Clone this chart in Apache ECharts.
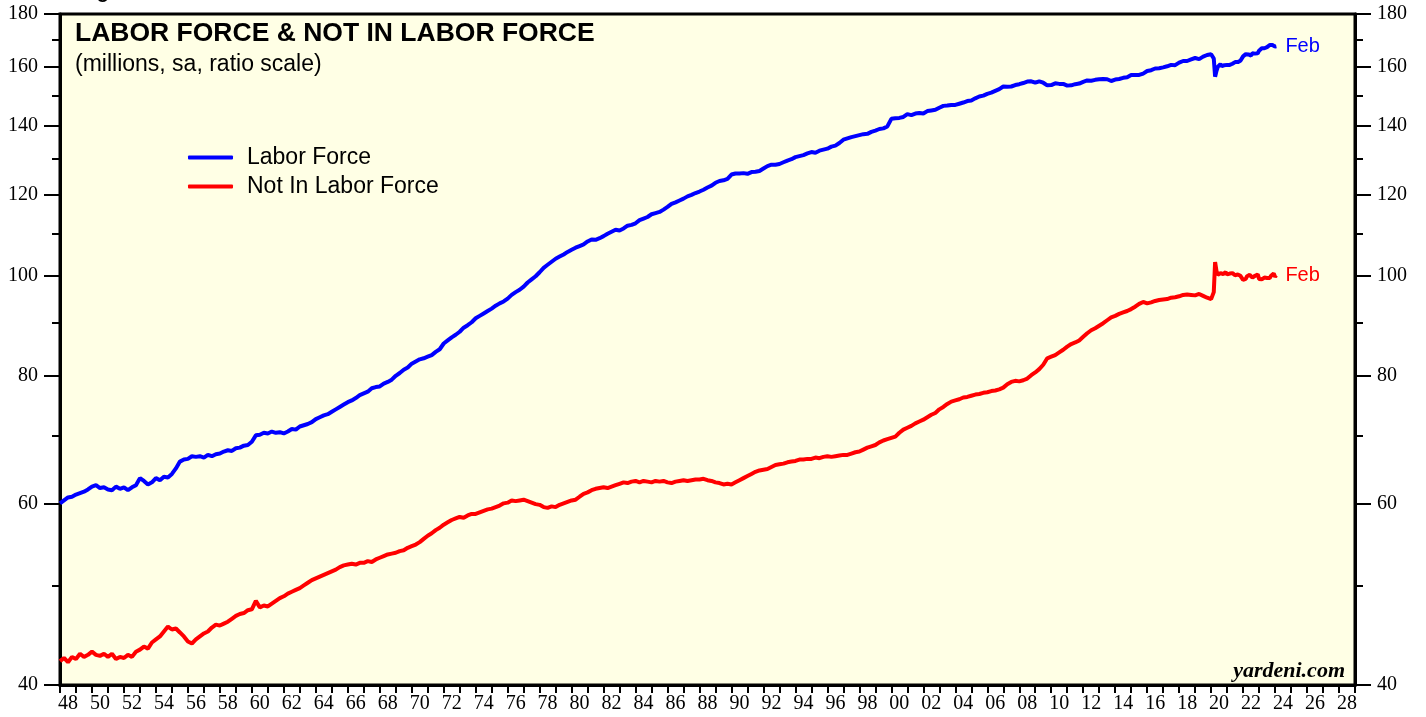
<!DOCTYPE html>
<html>
<head>
<meta charset="utf-8">
<title>Labor Force & Not In Labor Force</title>
<script src="https://cdn.jsdelivr.net/npm/echarts@6/dist/echarts.min.js"></script>
<style>
  html, body { margin: 0; padding: 0; background: #fff; }
  #main { width: 1426px; height: 717px; }
</style>
</head>
<body>
<div id="main"></div>
<script>
// quarterly values 1948Q1 .. 2019Q4 (millions)
const laborForceQ = [
  60.1, 60.5, 60.9, 61.0,  61.3, 61.5, 61.7, 62.0,  62.4, 62.6, 62.2, 62.3,  62.0, 61.9, 62.4, 62.1,
  62.3, 61.9, 62.3, 62.6,  63.6, 63.2, 62.7, 63.0,  63.6, 63.3, 63.8, 63.7,  64.2, 65.0, 66.0, 66.3,
  66.4, 66.8, 66.7, 66.8,  66.6, 67.0, 66.8, 67.1,  67.2, 67.5, 67.7, 67.6,  68.0, 68.1, 68.4, 68.5,
  69.0, 70.0, 70.1, 70.4,  70.3, 70.6, 70.4, 70.5,  70.3, 70.6, 71.0, 70.9,  71.4, 71.6, 71.8, 72.1,
  72.6, 72.9, 73.2, 73.4,  73.8, 74.2, 74.6, 75.0,  75.4, 75.7, 76.1, 76.6,  76.9, 77.2, 77.8, 78.0,
  78.1, 78.6, 78.9, 79.3,  80.0, 80.5, 81.1, 81.5,  82.2, 82.6, 83.0, 83.2,  83.5, 83.8, 84.4, 84.9,
  86.0, 86.6, 87.2, 87.7,  88.3, 89.1, 89.6, 90.2,  91.0, 91.5, 92.0, 92.5,  93.0, 93.6, 94.1, 94.5,
  95.1, 95.9, 96.5, 97.0,  97.7, 98.6, 99.3, 100.0,  100.9, 101.9, 102.6, 103.3,  104.0, 104.5, 105.0, 105.6,
  106.1, 106.6, 107.0, 107.4,  108.1, 108.6, 108.5, 108.9,  109.4, 110.0, 110.5, 111.0,  110.8, 111.3, 112.0, 112.2,
  112.6, 113.4, 113.8, 114.2,  114.9, 115.2, 115.5, 116.1,  116.8, 117.6, 118.0, 118.5,  119.0, 119.6, 120.0, 120.5,
  120.9, 121.4, 122.0, 122.5,  123.3, 123.8, 124.0, 124.4,  125.6, 125.9, 125.9, 126.0,  125.8, 126.3, 126.4, 126.6,
  127.3, 128.0, 128.4, 128.4,  128.6, 129.1, 129.6, 130.0,  130.6, 130.9, 131.2, 131.7,  132.1, 131.9, 132.5, 132.8,
  133.1, 133.7, 134.0, 134.8,  135.8, 136.2, 136.6, 136.9,  137.2, 137.5, 137.6, 138.2,  138.6, 139.1, 139.3, 139.9,
  142.3, 142.5, 142.6, 142.9,  143.8, 143.5, 144.0, 144.2,  144.0, 144.8, 145.0, 145.2,  145.9, 146.5, 146.6, 146.8,
  146.8, 147.2, 147.6, 148.1,  148.3, 149.0, 149.6, 149.9,  150.5, 150.9, 151.5, 152.1,  153.0, 152.9, 153.0, 153.5,
  153.8, 154.2, 154.7, 154.8,  154.3, 154.8, 154.3, 153.4,  153.5, 154.1, 153.9, 153.9,  153.3, 153.4, 153.8, 154.0,
  154.6, 155.1, 155.0, 155.3,  155.5, 155.6, 155.5, 154.9,  155.4, 155.6, 156.0, 156.2,  157.0, 157.0, 157.0, 157.5,
  158.4, 158.7, 159.3, 159.4,  159.7, 160.1, 160.6, 160.5,  161.4, 162.0, 162.0, 162.6,  163.1, 162.7, 163.6, 164.2
];
const notInLaborForceQ = [
  42.2, 42.5, 42.1, 42.6,  42.4, 42.9, 42.6, 42.8,  43.1, 42.8, 42.7, 42.9,  42.6, 42.9, 42.4, 42.6,
  42.5, 42.8, 42.6, 43.1,  43.3, 43.6, 43.4, 44.0,  44.3, 44.6, 45.1, 45.6,  45.3, 45.4, 45.0, 44.6,
  44.1, 43.9, 44.3, 44.6,  44.9, 45.1, 45.5, 45.8,  45.7, 45.9, 46.1, 46.4,  46.7, 46.9, 47.0, 47.3,
  47.4, 48.3, 47.6, 47.8,  47.7, 48.0, 48.3, 48.6,  48.8, 49.1, 49.3, 49.5,  49.7, 50.0, 50.3, 50.6,
  50.8, 51.0, 51.2, 51.4,  51.6, 51.8, 52.1, 52.3,  52.4, 52.5, 52.4, 52.6,  52.6, 52.8, 52.7, 53.0,
  53.2, 53.4, 53.6, 53.7,  53.8, 54.0, 54.1, 54.4,  54.6, 54.8, 55.1, 55.5,  55.9, 56.2, 56.6, 56.9,
  57.3, 57.6, 57.9, 58.1,  58.3, 58.2, 58.5, 58.7,  58.7, 58.9, 59.1, 59.3,  59.4, 59.6, 59.8, 60.1,
  60.2, 60.5, 60.4, 60.5,  60.6, 60.4, 60.2, 60.0,  59.9, 59.6, 59.5, 59.7,  59.6, 59.9, 60.1, 60.3,
  60.5, 60.6, 61.0, 61.4,  61.6, 61.9, 62.1, 62.2,  62.3, 62.2, 62.4, 62.6,  62.8, 63.0, 62.9, 63.1,
  63.2, 63.0, 63.2, 63.1,  63.0, 63.2, 63.1, 63.2,  63.0, 62.9, 63.1, 63.2,  63.3, 63.2, 63.3, 63.4,
  63.4, 63.5, 63.3, 63.2,  63.0, 62.9, 62.7, 62.8,  62.7, 63.0, 63.3, 63.6,  63.9, 64.2, 64.5, 64.7,
  64.8, 64.9, 65.2, 65.5,  65.6, 65.7, 65.9, 66.0,  66.1, 66.3, 66.3, 66.4,  66.4, 66.6, 66.5, 66.7,
  66.8, 66.7, 66.8, 66.9,  67.0, 67.0, 67.2, 67.4,  67.5, 67.8, 68.1, 68.3,  68.5, 68.9, 69.2, 69.4,
  69.6, 69.8, 70.4, 70.9,  71.2, 71.5, 71.9, 72.2,  72.5, 72.9, 73.3, 73.6,  74.2, 74.6, 75.1, 75.5,
  75.7, 75.9, 76.2, 76.3,  76.5, 76.7, 76.8, 77.0,  77.1, 77.3, 77.4, 77.6,  77.9, 78.5, 78.9, 79.1,
  79.0, 79.2, 79.5, 80.1,  80.6, 81.2, 82.0, 83.2,  83.5, 83.8, 84.3, 84.8,  85.4, 85.9, 86.2, 86.6,
  87.3, 88.0, 88.6, 89.0,  89.5, 90.0, 90.6, 91.2,  91.5, 91.9, 92.2, 92.5,  92.9, 93.4, 94.0, 94.4,
  94.1, 94.3, 94.6, 94.8,  94.9, 95.0, 95.3, 95.4,  95.6, 95.9, 96.0, 95.9,  95.8, 96.1, 95.7, 95.3
];
// monthly values Jan 2020 .. Feb 2024
const laborForceM = [
  164.5, 164.6, 162.9, 156.4, 158.4, 159.9, 160.3, 160.9, 160.1, 160.7, 160.5, 160.6,
  160.6, 160.3, 160.6, 160.9, 161.0, 161.2, 161.6, 161.4, 161.6, 161.8, 162.1, 162.3,
  163.7, 164.2, 164.5, 164.2, 164.4, 164.1, 164.0, 164.8, 164.7, 164.7, 164.5, 164.8,
  165.8, 166.2, 166.7, 166.6, 166.7, 166.9, 167.1, 167.8, 167.9, 167.7, 167.9, 167.5,
  167.3, 167.4
];
const notInLaborForceM = [
  95.0, 95.0, 96.5, 103.2, 101.2, 100.3, 100.4, 100.7, 100.6, 100.5, 100.6, 100.9,
  100.4, 100.6, 100.6, 100.6, 100.7, 100.5, 100.2, 100.5, 100.4, 100.3, 100.1, 100.0,
  99.2, 99.3, 99.4, 100.0, 99.9, 100.3, 100.4, 99.7, 99.9, 100.1, 100.4, 100.4,
  99.4, 99.4, 99.3, 99.6, 99.7, 99.6, 99.6, 99.5, 99.6, 100.1, 99.9, 100.6,
  99.9, 100.2
];
const yMajor = [40, 60, 80, 100, 120, 140, 160, 180];
const yMinor = [50, 70, 90, 110, 130, 150, 170];
const firstYear = 1948, lastYear = 2029;

const quarterDates = laborForceQ.map((_, i) => firstYear + i / 4);
const monthDates = laborForceM.map((_, i) => 2020 + i / 12);

function toPoints(q, m) {
  const pts = q.map((v, i) => [quarterDates[i], Math.log(v)]);
  return pts.concat(m.map((v, i) => [monthDates[i], Math.log(v)]));
}

const yearTicks = [];
const yearLabels = [];
for (let y = firstYear; y <= lastYear; y++) {
  yearTicks.push(y);
  if (y % 2 === 0 && y < lastYear) yearLabels.push(y + 0.5);
}

const serif = '"Liberation Serif", "Times New Roman", serif';
const sans = '"Liberation Sans", Arial, Helvetica, sans-serif';

function yAxis(pos, values, len, labels) {
  return {
    type: 'value',
    position: pos,
    min: Math.log(40),
    max: Math.log(180),
    axisLine: { show: labels, lineStyle: { color: '#000', width: 3 } },
    splitLine: { show: false },
    axisTick: {
      show: true, inside: false, length: len,
      customValues: values.map(v => Math.log(v)),
      lineStyle: { color: '#000', width: 2 }
    },
    axisLabel: {
      show: labels,
      customValues: values.map(v => Math.log(v)),
      formatter: v => String(Math.round(Math.exp(v))),
      margin: 22,
      color: '#000',
      fontSize: 20,
      fontFamily: serif
    }
  };
}

const chart = echarts.init(document.getElementById('main'), null, { renderer: 'canvas' });

chart.setOption({
  animation: false,
  backgroundColor: '#fff',
  grid: {
    left: 60, right: 71, top: 14, bottom: 32,
    show: true,
    backgroundColor: '#FFFFE5',
    borderColor: '#000',
    borderWidth: 3,
    outerBoundsMode: 'none'
  },
  legend: {
    orient: 'vertical',
    left: 188,
    top: 146,
    padding: 0,
    itemWidth: 45,
    itemHeight: 4,
    itemGap: 6,
    icon: 'roundRect',
    data: ['Labor Force', 'Not In Labor Force'],
    textStyle: { fontSize: 23, lineHeight: 23, fontFamily: sans, color: '#000', padding: [0, 0, 0, 9] }
  },
  xAxis: {
    type: 'value',
    min: firstYear,
    max: lastYear,
    axisLine: { lineStyle: { color: '#000', width: 3 } },
    splitLine: { show: false },
    axisTick: {
      show: true, inside: false, length: 8,
      customValues: yearTicks,
      lineStyle: { color: '#000', width: 2 }
    },
    axisLabel: {
      customValues: yearLabels,
      formatter: v => String(Math.floor(v) % 100).padStart(2, '0'),
      margin: 9,
      color: '#000',
      fontSize: 20,
      fontFamily: serif
    }
  },
  yAxis: [
    yAxis('left', yMajor, 16, true),
    yAxis('left', yMinor, 8, false),
    yAxis('right', yMajor, 16, true),
    yAxis('right', yMinor, 8, false)
  ],
  series: [
    {
      name: 'Labor Force',
      type: 'line',
      yAxisIndex: 0,
      symbol: 'none',
      color: '#0000FF',
      lineStyle: { width: 4, color: '#0000FF' },
      data: toPoints(laborForceQ, laborForceM),
      endLabel: { show: true, formatter: 'Feb', color: '#0000FF', fontSize: 20, fontFamily: sans, distance: 9 }
    },
    {
      name: 'Not In Labor Force',
      type: 'line',
      yAxisIndex: 0,
      symbol: 'none',
      color: '#FF0000',
      lineStyle: { width: 4, color: '#FF0000' },
      data: toPoints(notInLaborForceQ, notInLaborForceM),
      endLabel: { show: true, formatter: 'Feb', color: '#FF0000', fontSize: 20, fontFamily: sans, distance: 9 }
    }
  ],
  graphic: [
    {
      type: 'text', left: 79, top: -18,
      style: { text: 'Figure', font: 'bold 20px ' + sans, fill: '#000' }
    },
    {
      type: 'text', x: 75, y: 34,
      style: { text: 'LABOR FORCE & NOT IN LABOR FORCE', font: 'bold 26.5px ' + sans, fill: '#000', verticalAlign: 'middle' }
    },
    {
      type: 'text', x: 75, y: 65,
      style: { text: '(millions, sa, ratio scale)', font: '23px ' + sans, fill: '#000', verticalAlign: 'middle' }
    },
    {
      type: 'text', x: 1345, y: 671,
      style: { text: 'yardeni.com', font: 'italic bold 22px ' + serif, fill: '#000', align: 'right', verticalAlign: 'middle' }
    }
  ]
});
</script>
</body>
</html>
